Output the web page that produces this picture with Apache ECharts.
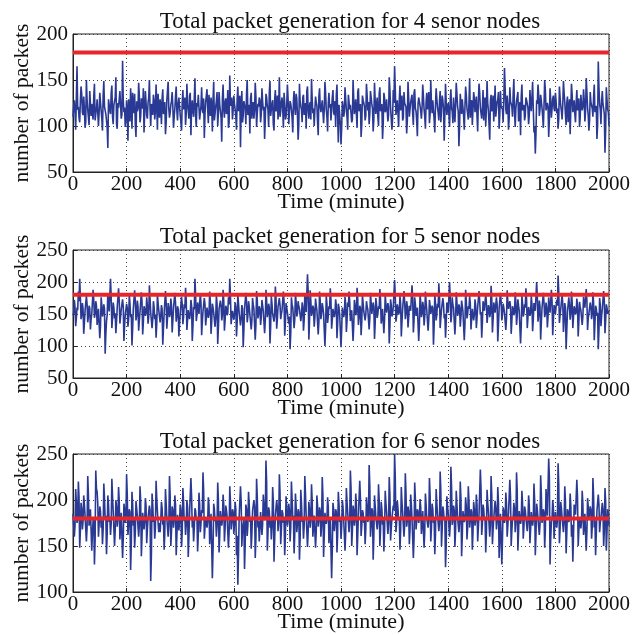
<!DOCTYPE html>
<html><head><meta charset="utf-8">
<script src="https://cdn.jsdelivr.net/npm/echarts@6/dist/echarts.min.js"></script>
<style>html,body{margin:0;padding:0;background:#fff}#c{width:641px;height:635px}</style>
</head><body><div id="c"></div>
<script>
// readings every 2.5 minutes: "main" samples at 0,5,10,...,2000 and "mid" samples at 2.5,7.5,...,1997.5
const sampleStep = 2.5;
const titles = ['Total packet generation for 4 senor nodes','Total packet generation for 5 senor nodes','Total packet generation for 6 senor nodes'];
const thresholds = [180, 180, 180];
const yMins = [50, 50, 100];
const yMaxs = [200, 250, 250];
const xTicks = [0,200,400,600,800,1000,1200,1400,1600,1800,2000];

const packets4 = [
110,128,96,165,121,104,143,115,132,98,150,118,101,139,124,107,146,113,129,100,
136,117,95,149,122,106,76,131,113,144,102,127,153,97,120,138,108,171,115,99,
128,84,112,141,97,123,135,88,116,147,104,130,119,93,138,111,125,150,100,121,
134,107,145,96,118,129,102,140,115,91,127,148,109,123,137,98,119,143,106,131,
112,95,139,124,101,146,117,133,90,128,110,152,99,121,136,105,142,114,87,126,
140,103,119,131,94,148,113,127,100,137,122,83,145,109,130,116,98,155,120,107,
133,118,96,143,125,77,138,111,129,102,150,115,92,136,121,108,147,99,124,131,
104,141,117,86,135,122,99,149,113,128,95,139,120,107,153,116,131,98,125,110,
145,102,127,118,93,138,112,130,85,146,121,104,134,119,97,143,108,126,151,114,
100,132,122,90,141,115,128,103,148,118,94,136,124,107,139,112,99,145,82,121,
80,127,110,142,118,96,135,123,104,150,113,129,98,141,119,88,133,125,106,146,
117,102,138,124,94,147,113,131,100,142,121,86,136,115,129,105,153,120,96,139,
165,112,128,99,144,119,106,137,123,92,148,110,126,134,101,140,116,89,131,122,
108,145,118,97,136,125,103,150,114,130,93,141,120,106,138,117,128,84,146,112,
125,99,140,116,131,104,147,121,78,135,113,128,96,143,119,107,152,124,101,137,
115,132,94,146,120,108,139,126,100,149,117,85,134,122,105,144,111,129,97,138,
121,104,163,118,133,96,142,125,110,151,99,127,137,113,90,145,120,106,131,124,
102,139,116,148,93,70,128,145,111,134,120,98,150,117,125,88,141,109,130,119,
136,114,97,143,122,107,149,126,101,132,118,91,146,115,128,104,139,123,99,134,
117,140,105,152,120,95,137,127,110,145,113,86,170,124,102,138,119,71,142,118,
100];
const packets4mid = [
122,114,131,118,109,127,135,112,120,104,129,117,138,111,124,132,106,119,127,115,
126,108,133,121,113,98,129,117,136,110,123,131,102,125,118,140,112,128,120,107,
117,129,105,124,136,114,101,127,119,133,110,122,141,115,126,108,131,118,124,112,
128,116,122,135,109,121,130,113,126,103,138,119,114,127,121,110,132,117,124,129,
105,125,118,131,114,123,108,136,120,116,129,111,125,134,107,122,118,130,113,126,
119,134,111,124,128,106,121,137,115,123,109,130,118,126,113,139,104,122,131,117,
124,110,129,116,133,121,104,127,119,135,112,123,130,108,126,117,132,114,121,128,
113,127,121,108,131,118,137,111,124,102,129,116,133,121,110,126,119,136,107,123,
130,115,124,109,128,120,135,113,101,127,118,131,112,125,138,116,122,107,129,119,
117,126,104,132,121,113,129,118,136,110,124,120,106,131,115,127,134,111,123,102,
98,121,115,129,110,134,118,125,107,130,119,113,137,116,124,102,128,121,111,133,
126,114,131,119,107,128,122,110,135,116,124,103,130,118,127,112,139,121,108,125,
140,120,114,128,117,133,109,125,121,106,131,118,127,113,136,119,105,124,130,116,
121,132,110,126,118,137,113,124,128,107,122,130,115,127,104,133,119,112,126,120,
114,127,119,103,131,122,135,116,100,124,129,111,121,134,117,125,109,128,118,130,
123,111,128,136,114,120,106,131,119,125,101,127,116,133,122,110,126,137,112,121,
118,130,141,113,124,108,127,121,135,115,119,129,105,126,132,117,123,111,128,120,
112,125,131,119,100,92,124,135,118,127,110,122,139,115,121,107,128,119,133,116,
127,119,108,131,116,123,136,112,125,104,129,118,134,120,113,126,117,130,109,124,
121,128,116,137,112,106,126,119,131,115,122,101,142,118,127,124,113,96,129,115];

const packets5 = [
148,172,131,160,185,205,142,167,119,155,178,137,163,126,150,188,144,170,133,158,
112,176,146,165,88,139,182,154,205,128,168,143,120,160,190,135,157,173,108,149,
166,130,179,145,101,158,187,140,171,124,153,184,118,162,147,176,135,195,152,128,
170,142,113,181,156,137,164,102,150,186,127,167,145,174,121,159,183,138,162,115,
150,177,134,165,191,125,156,142,172,108,161,205,139,168,150,182,117,154,175,132,
160,144,185,119,166,152,130,179,103,158,171,140,188,124,163,148,176,205,134,155,
141,168,115,180,152,132,164,98,157,183,137,170,149,126,175,158,110,186,143,162,
133,172,155,120,188,145,166,104,178,150,138,193,127,161,175,142,156,185,116,167,
152,135,95,176,160,128,183,146,170,158,139,168,124,181,153,212,110,187,147,163,
130,174,156,118,185,142,167,151,100,179,136,162,190,127,158,145,173,112,166,150,
98,160,145,177,122,168,185,139,156,108,172,148,191,133,163,117,180,154,140,170,
157,126,183,150,168,111,175,144,162,189,135,158,120,180,152,167,104,173,146,160,
203,138,165,149,178,115,158,186,142,170,129,163,155,195,121,176,147,160,108,182,
145,169,132,185,156,124,172,150,163,102,181,140,166,198,128,157,175,143,113,168,
152,200,137,176,160,118,184,147,165,130,171,154,109,188,143,162,178,126,158,140,
173,128,161,186,149,113,170,155,182,136,164,145,194,121,168,152,176,107,159,183,
140,166,152,125,187,158,170,119,162,148,184,133,173,155,104,179,146,165,190,128,
161,147,178,123,167,155,200,138,171,110,159,183,145,168,129,176,152,188,117,164,
150,172,210,136,158,180,122,167,95,153,176,141,185,128,162,149,174,115,169,156,
133,177,160,189,125,151,168,142,184,109,163,147,95,175,131,158,186,120,165,150,
155];
const packets5mid = [
152,161,143,156,170,178,149,158,136,155,166,147,159,141,153,172,150,163,145,157,
130,164,152,158,118,148,168,155,176,144,160,151,139,157,171,146,154,162,132,152,
159,142,167,150,127,155,170,148,162,140,154,169,137,158,151,163,146,174,153,141,
161,149,134,167,155,147,158,128,153,170,143,160,150,164,139,156,168,146,158,135,
153,165,145,159,172,141,155,150,163,131,157,180,148,161,153,168,137,154,165,144,
157,150,169,138,160,154,144,166,129,156,163,148,171,140,159,152,165,178,146,155,
149,161,136,167,154,143,159,124,155,170,147,162,152,140,165,156,133,172,150,158,
145,163,155,139,171,151,160,130,166,153,147,174,142,158,164,150,155,169,137,160,
154,146,120,165,158,142,169,151,162,160,148,161,140,167,155,185,138,170,152,159,
144,164,156,138,170,150,160,154,127,166,147,158,172,141,156,152,163,134,160,153,
125,157,151,165,140,161,169,148,155,133,163,152,173,145,159,138,167,154,149,162,
156,143,168,153,161,135,165,150,158,172,146,156,141,166,154,161,131,164,151,157,
178,147,160,153,166,138,156,170,150,162,144,159,155,174,140,165,152,157,132,168,
151,161,146,169,155,142,163,153,159,130,167,149,160,178,143,155,165,150,136,161,
154,176,147,164,157,140,169,152,160,145,163,155,134,171,150,158,166,143,156,149,
164,144,158,170,153,136,162,155,168,148,159,151,175,141,161,154,165,133,157,169,
149,160,154,143,170,156,162,139,158,152,168,147,163,155,131,166,151,160,172,144,
158,152,165,142,161,155,178,148,162,136,157,168,151,160,145,164,154,170,140,159,
153,163,185,148,156,166,141,160,125,154,164,150,169,145,158,153,163,138,161,155,
146,165,157,171,143,153,161,150,168,135,159,152,124,164,147,156,170,140,160,153];

const packets6 = [
185,160,212,175,220,148,197,168,205,183,155,226,172,190,145,178,130,232,209,160,
193,170,152,218,180,141,205,176,162,223,188,150,200,171,214,157,186,137,196,175,
228,162,190,124,209,172,148,199,183,160,215,139,186,168,202,153,180,194,112,207,
176,158,221,187,165,165,198,173,146,212,181,160,226,150,193,170,205,140,184,167,
195,149,213,177,162,200,138,186,224,170,155,191,178,144,208,165,189,230,158,181,
170,203,152,185,115,196,177,160,219,143,188,172,206,155,194,182,148,215,168,190,
163,198,140,108,182,215,150,173,125,195,161,209,176,147,188,200,137,223,170,155,
187,162,206,178,243,145,192,170,157,214,133,183,200,166,228,152,189,175,140,204,
172,196,155,220,180,142,207,165,190,135,211,176,158,226,184,149,198,170,217,160,
183,148,205,171,192,160,225,138,186,174,203,153,180,115,197,166,190,143,209,176,
158,200,179,145,213,186,165,232,150,194,172,207,140,184,221,161,189,175,152,203,
176,238,160,191,135,205,182,168,217,150,198,173,144,210,187,163,225,156,180,194,
250,165,199,178,146,214,186,160,229,171,193,152,206,180,137,219,168,190,175,201,
163,188,148,207,180,170,224,155,196,175,141,212,185,166,231,150,193,178,127,204,
186,160,236,173,194,149,210,181,165,220,139,188,176,203,157,215,170,190,146,198,
172,206,155,184,233,162,195,178,143,211,187,160,226,152,180,199,168,214,137,185,
130,192,175,208,160,186,222,150,179,197,165,230,145,188,174,210,158,193,181,166,
205,153,187,172,218,140,196,180,162,227,175,190,148,212,183,245,130,176,200,158,
187,170,240,153,198,181,165,215,142,190,176,207,160,133,195,184,222,150,178,169,
210,162,185,145,202,178,193,158,224,170,140,188,206,165,181,197,150,213,145,190,
172];
const packets6mid = [
183,172,198,180,203,167,190,177,195,184,170,206,178,188,164,181,156,212,196,174,
188,178,168,201,183,163,195,180,174,204,186,167,192,179,199,171,185,158,190,180,
206,173,187,152,196,179,165,191,184,172,199,160,185,176,194,168,182,189,140,195,
180,170,202,186,175,178,191,179,163,197,183,172,205,166,189,178,195,160,184,176,
189,165,198,181,173,192,160,185,204,178,169,188,181,162,196,174,186,210,170,183,
177,194,168,184,145,190,180,172,200,162,186,178,195,169,189,183,165,198,176,187,
174,190,161,140,183,198,167,179,152,190,172,195,181,163,187,193,158,204,177,170,
185,173,195,181,220,164,188,178,171,198,157,184,192,175,208,168,186,180,161,193,
178,189,170,201,183,163,194,174,187,158,197,180,171,206,184,166,190,178,199,172,
184,165,194,178,188,172,205,161,185,179,193,168,182,145,190,175,187,163,196,180,
171,192,181,164,198,185,175,212,167,189,179,195,162,184,202,172,186,180,168,193,
180,215,172,188,160,194,183,176,200,167,190,179,164,197,185,174,206,169,182,189,
225,175,191,181,166,198,185,172,208,178,188,168,195,181,158,201,177,187,180,192,
174,186,166,195,182,178,205,170,190,180,163,197,184,175,210,168,188,181,150,193,
185,173,214,179,189,167,196,182,176,202,161,186,180,193,170,199,178,187,165,190,
178,195,170,185,212,174,190,181,164,197,186,173,206,168,182,191,177,198,160,184,
158,188,180,196,172,185,203,167,182,190,175,210,165,186,179,196,171,189,183,176,
194,168,186,179,200,162,190,182,173,206,180,187,168,197,184,225,158,180,192,172,
185,178,218,169,191,183,175,199,164,187,180,194,173,160,190,184,203,167,181,177,
196,172,186,165,193,180,189,171,204,178,163,186,195,175,183,190,166,198,165,186];

const mainSets = [packets4, packets5, packets6];
const midSets = [packets4mid, packets5mid, packets6mid];

function interleave(main, mid) {
  const out = [];
  for (let k = 0; k < main.length; k++) {
    out.push(main[k]);
    if (k < mid.length) out.push(mid[k]);
  }
  return out;
}

const FONT = 'Liberation Serif';
const grids = [
  {left: 73, right: 32, top: 34, height: 138},
  {left: 73, right: 32, top: 250, height: 128},
  {left: 73, right: 32, top: 454, height: 138}
];
const titleTops = [5, 220, 425];

const chart = echarts.init(document.getElementById('c'), null, {renderer: 'canvas'});
const option = {
  animation: false,
  backgroundColor: '#fff',
  title: titles.map((t, i) => ({
    text: t, left: 345, top: titleTops[i], textAlign: 'center',
    textStyle: {fontFamily: FONT, fontSize: 23, fontWeight: 'normal', color: '#111'}
  })),
  grid: grids.map(g => Object.assign({show: true, borderColor: '#222', borderWidth: 1, backgroundColor: 'transparent', outerBoundsMode: 'none', containLabel: false}, g)),
  xAxis: grids.map((g, i) => ({
    type: 'value', gridIndex: i, min: xTicks[0], max: xTicks[xTicks.length-1], interval: 200,
    name: 'Time (minute)', nameLocation: 'middle', nameGap: 19, nameMoveOverlap: false,
    nameTextStyle: {fontFamily: FONT, fontSize: 22, color: '#111'},
    axisLine: {show: true, lineStyle: {color: '#222'}},
    axisTick: {show: true, inside: true, length: 4, lineStyle: {color: '#222'}},
    axisLabel: {fontFamily: FONT, fontSize: 21, color: '#111', margin: 2, formatter: v => String(v)},
    splitLine: {show: true, lineStyle: {type: [1, 3], color: '#444', width: 1}}
  })),
  yAxis: grids.map((g, i) => ({
    type: 'value', gridIndex: i, min: yMins[i], max: yMaxs[i], interval: 50,
    name: 'number of packets', nameLocation: 'middle', nameGap: 40, nameMoveOverlap: false,
    nameTextStyle: {fontFamily: FONT, fontSize: 21.5, color: '#111'},
    axisLine: {show: true, lineStyle: {color: '#222'}},
    axisTick: {show: true, inside: true, length: 4, lineStyle: {color: '#222'}},
    axisLabel: {fontFamily: FONT, fontSize: 21, color: '#111', margin: 5},
    splitLine: {show: true, lineStyle: {type: [1, 3], color: '#444', width: 1}}
  })),
  series: []
};
mainSets.forEach((arr, i) => {
  const vals = interleave(arr, midSets[i]);
  option.series.push({
    type: 'line', xAxisIndex: i, yAxisIndex: i, showSymbol: false, symbol: 'none',
    lineStyle: {color: '#2a3a94', width: 1.6}, z: 2,
    data: vals.map((v, k) => [k * sampleStep, v])
  });
  option.series.push({
    type: 'line', xAxisIndex: i, yAxisIndex: i, symbol: 'none',
    lineStyle: {color: '#e8262a', width: 4}, z: 3,
    data: [[xTicks[0], thresholds[i]], [xTicks[xTicks.length-1], thresholds[i]]]
  });
});
chart.setOption(option);
</script>
</body></html>
